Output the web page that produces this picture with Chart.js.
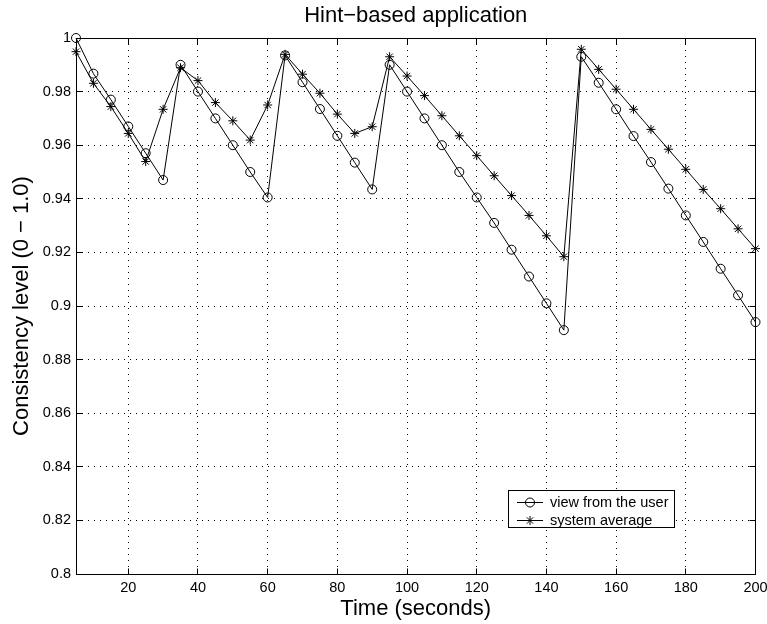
<!DOCTYPE html>
<html>
<head>
<meta charset="utf-8">
<title>Hint-based application</title>
<script src="https://cdn.jsdelivr.net/npm/chart.js@4.4.1/dist/chart.umd.min.js"></script>
<style>
  html, body { margin: 0; padding: 0; background: #fff; }
  #chart { display: block; }
</style>
</head>
<body>
<canvas id="chart" width="767" height="624"></canvas>
<script>
// time axis (seconds), one sample every 5 s
const times = [5, 10, 15, 20, 25, 30, 35, 40, 45, 50,
               55, 60, 65, 70, 75, 80, 85, 90, 95, 100,
               105, 110, 115, 120, 125, 130, 135, 140, 145, 150,
               155, 160, 165, 170, 175, 180, 185, 190, 195, 200];

// consistency as seen by the user (circles)
const userView = [1.000, 0.9867, 0.977, 0.967, 0.957, 0.947,
                  0.990, 0.980, 0.970, 0.960, 0.950, 0.9405,
                  0.9935, 0.9835, 0.9735, 0.9635, 0.9535, 0.9435,
                  0.990, 0.980, 0.970, 0.960, 0.950, 0.9405, 0.931, 0.921, 0.911, 0.901, 0.891,
                  0.993, 0.9833, 0.9734, 0.9634, 0.9537, 0.9438, 0.9338, 0.9239, 0.9139, 0.904, 0.894];

// system average (stars)
const systemAverage = [0.9949, 0.9831, 0.9744, 0.9644, 0.9539, 0.9734,
                       0.9889, 0.9841, 0.9759, 0.9691, 0.9619, 0.975,
                       0.9939, 0.9865, 0.9794, 0.9716, 0.9644, 0.9669,
                       0.993, 0.9858, 0.9785, 0.971, 0.9635, 0.9561, 0.9486, 0.9412, 0.9338, 0.9262, 0.9184,
                       0.9958, 0.9883, 0.9809, 0.9734, 0.9659, 0.9585, 0.951, 0.9435, 0.9363, 0.9288, 0.9214];

const seriesNames = ['view from the user', 'system average'];
const xTicks = [20, 40, 60, 80, 100, 120, 140, 160, 180, 200];
const yTicks = [0.8, 0.82, 0.84, 0.86, 0.88, 0.9, 0.92, 0.94, 0.96, 0.98, 1];

const FONT = "'Liberation Sans', Arial, Helvetica, sans-serif";
Chart.defaults.color = '#000';
Chart.defaults.font.family = FONT;

const al = p => Math.round(p - 0.5) + 0.5;

// draw a marker, using Chart.js helper when present
function marker(ctx, style, r, x, y) {
    if (Chart.helpers && Chart.helpers.drawPoint) {
        Chart.helpers.drawPoint(ctx, { pointStyle: style, radius: r, borderWidth: 1, rotation: 0 }, x, y);
        return;
    }
    ctx.beginPath();
    if (style === 'circle') {
        ctx.arc(x, y, r, 0, Math.PI * 2);
    } else {
        const d = r * Math.SQRT1_2;
        ctx.moveTo(x - r, y); ctx.lineTo(x + r, y);
        ctx.moveTo(x, y - r); ctx.lineTo(x, y + r);
        ctx.moveTo(x - d, y - d); ctx.lineTo(x + d, y + d);
        ctx.moveTo(x - d, y + d); ctx.lineTo(x + d, y - d);
    }
    ctx.stroke();
}

// box around the axes plus inward ticks on all four sides
const axesBox = {
    id: 'axesBox',
    beforeDatasetsDraw(chart) {
        const { ctx, chartArea: a, scales } = chart;
        const L = al(a.left), R = al(a.right), T = al(a.top), B = al(a.bottom);
        const len = 6;
        ctx.save();
        ctx.strokeStyle = '#000';
        ctx.lineWidth = 1;
        ctx.setLineDash([]);
        ctx.beginPath();
        scales.x.ticks.forEach(t => {
            const px = al(scales.x.getPixelForValue(t.value));
            ctx.moveTo(px, B); ctx.lineTo(px, B - len);
            ctx.moveTo(px, T); ctx.lineTo(px, T + len);
        });
        scales.y.ticks.forEach(t => {
            const py = al(scales.y.getPixelForValue(t.value));
            ctx.moveTo(L, py); ctx.lineTo(L + len, py);
            ctx.moveTo(R, py); ctx.lineTo(R - len, py);
        });
        ctx.stroke();
        ctx.strokeRect(L, T, R - L, B - T);
        ctx.restore();
    }
};

// boxed legend in the lower right, MATLAB style
const boxLegend = {
    id: 'boxLegend',
    afterDraw(chart) {
        const ctx = chart.ctx;
        const left = 508.5, top = 490.5, w = 166, h = 37;
        ctx.save();
        ctx.fillStyle = '#fff';
        ctx.fillRect(left, top, w, h);
        ctx.strokeStyle = '#000';
        ctx.lineWidth = 1;
        ctx.strokeRect(left, top, w, h);
        chart.data.datasets.forEach((ds, i) => {
            const y = 502.5 + i * 18;
            ctx.strokeStyle = '#000';
            ctx.beginPath();
            ctx.moveTo(517, y); ctx.lineTo(543, y);
            ctx.stroke();
            ctx.fillStyle = 'rgba(0,0,0,0)';
            marker(ctx, ds.pointStyle, ds.pointRadius, 530, y);
            ctx.fillStyle = '#000';
            ctx.font = '14.5px ' + FONT;
            ctx.textAlign = 'left';
            ctx.textBaseline = 'middle';
            ctx.fillText(ds.label, 550, y);
        });
        ctx.restore();
    }
};

function fixScale(size) {
    return scale => {
        if (scale.isHorizontal()) scale.height = size; else scale.width = size;
        scale.paddingLeft = 0; scale.paddingRight = 0;
        scale.paddingTop = 0; scale.paddingBottom = 0;
    };
}

const ctx = document.getElementById('chart').getContext('2d');
new Chart(ctx, {
    type: 'line',
    data: {
        datasets: [{
            label: seriesNames[0],
            data: times.map((t, i) => ({ x: t, y: userView[i] })),
            borderColor: '#000',
            borderWidth: 1,
            pointStyle: 'circle',
            pointRadius: 4.5,
            pointBorderColor: '#000',
            pointBackgroundColor: 'rgba(0,0,0,0)',
            pointBorderWidth: 1,
            tension: 0,
            fill: false,
            clip: false
        }, {
            label: seriesNames[1],
            data: times.map((t, i) => ({ x: t, y: systemAverage[i] })),
            borderColor: '#000',
            borderWidth: 1,
            pointStyle: 'star',
            pointRadius: 4.5,
            pointBorderColor: '#000',
            pointBackgroundColor: 'rgba(0,0,0,0)',
            pointBorderWidth: 1,
            tension: 0,
            fill: false,
            clip: false
        }]
    },
    options: {
        responsive: false,
        animation: false,
        devicePixelRatio: 1,
        layout: { padding: { left: 0, right: 11.5, top: 0, bottom: 0 } },
        scales: {
            x: {
                type: 'linear',
                min: 5,
                max: 200,
                afterBuildTicks: scale => { scale.ticks = xTicks.map(v => ({ value: v })); },
                afterFit: fixScale(50),
                grid: { color: '#000', lineWidth: 1, drawTicks: false },
                border: { display: false, dash: [1, 5] },
                ticks: { padding: 5, maxRotation: 0, autoSkip: false, color: '#000', font: { size: 14.5 } },
                title: {
                    display: true,
                    text: 'Time (seconds)',
                    color: '#000',
                    font: { size: 22 },
                    padding: { top: 0, bottom: 1.8 }
                }
            },
            y: {
                type: 'linear',
                min: 0.8,
                max: 1,
                afterBuildTicks: scale => { scale.ticks = yTicks.map(v => ({ value: v })); },
                afterFit: fixScale(76),
                grid: { color: '#000', lineWidth: 1, drawTicks: false },
                border: { display: false, dash: [1, 5] },
                ticks: {
                    padding: 5,
                    autoSkip: false,
                    color: '#000',
                    font: { size: 14.5 },
                    callback: v => String(Number(v.toFixed(2)))
                },
                title: {
                    display: true,
                    text: 'Consistency level (0 \u2212 1.0)',
                    color: '#000',
                    font: { size: 22 },
                    padding: { top: 8.3, bottom: 0 }
                }
            }
        },
        plugins: {
            legend: { display: false },
            tooltip: { enabled: false },
            title: {
                display: true,
                fullSize: false,
                text: 'Hint\u2212based application',
                color: '#000',
                font: { size: 22, weight: 'normal' },
                padding: { top: 2.8, bottom: 8.8 }
            }
        }
    },
    plugins: [axesBox, boxLegend]
});
</script>
</body>
</html>
